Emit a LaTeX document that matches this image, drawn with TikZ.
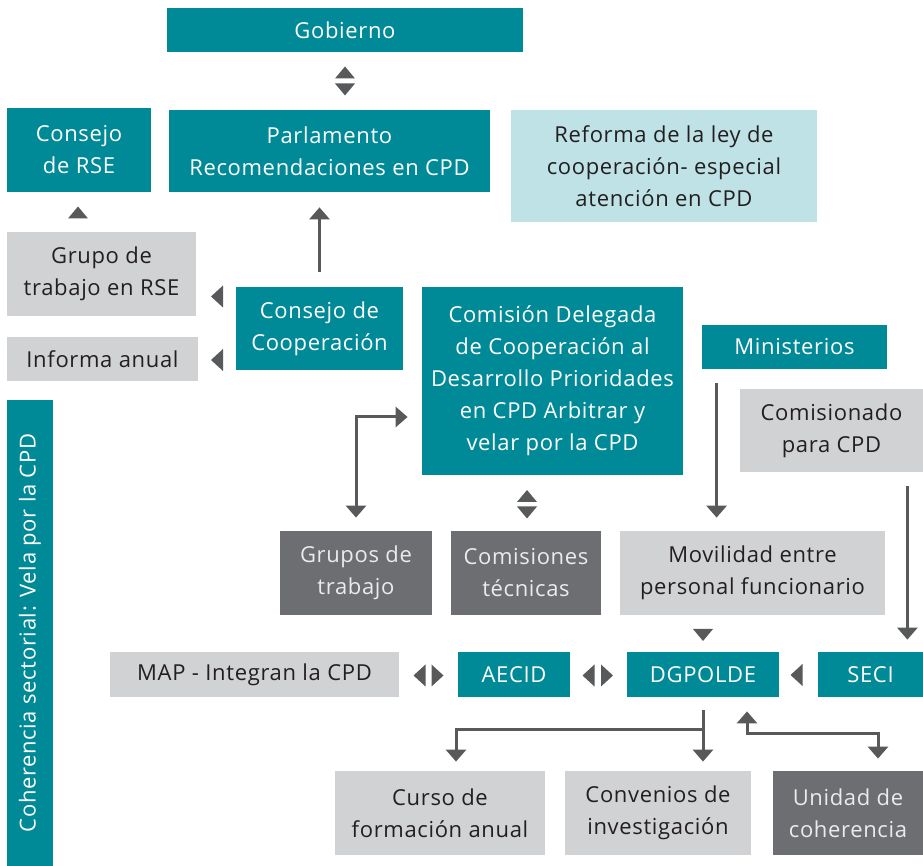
\documentclass[tikz,border=0pt]{standalone}
\usepackage{fontspec}
\setmainfont{Open Sans}[LetterSpace=3]
\usetikzlibrary{arrows.meta, positioning}
\definecolor{cpdTeal}{RGB}{0,138,151}
\definecolor{cpdLight}{RGB}{209,210,212}
\definecolor{cpdDark}{RGB}{109,110,113}
\definecolor{cpdPale}{RGB}{191,226,230}
\definecolor{cpdArrow}{RGB}{88,89,91}
\definecolor{cpdText}{RGB}{35,31,32}
\tikzset{
    box/.style={inner sep=0pt, align=center, font=\fontsize{11}{16}\selectfont},
    teal box/.style={box, fill=cpdTeal, text=white},
    light box/.style={box, fill=cpdLight, text=cpdText},
    dark box/.style={box, fill=cpdDark, text=white!92!black},
    pale box/.style={box, fill=cpdPale, text=cpdText},
    conn/.style={draw=cpdArrow, line width=1.5pt, -{Triangle[width=10pt,length=6pt]}},
    dconn/.style={draw=cpdArrow, line width=1.5pt, {Triangle[width=10pt,length=6pt]}-{Triangle[width=10pt,length=6pt]}}
}
% loose arrowheads between boxes
\newcommand{\tipup}[1]{\fill[cpdArrow] (#1) ++(-10,6) -- ++(20,0) -- ++(-10,-12) -- cycle;}
\newcommand{\tipdown}[1]{\fill[cpdArrow] (#1) ++(-10,-6) -- ++(20,0) -- ++(-10,12) -- cycle;}
\newcommand{\tipleft}[1]{\fill[cpdArrow] (#1) ++(6,-11) -- ++(0,22) -- ++(-12,-11) -- cycle;}
\newcommand{\tipright}[1]{\fill[cpdArrow] (#1) ++(-6,-11) -- ++(0,22) -- ++(12,-11) -- cycle;}

\begin{document}
\begin{tikzpicture}[x=0.5pt, y=-0.5pt]
    \useasboundingbox (0,0) rectangle (923,866);

    % Top row
    \node[teal box, minimum width=178pt, minimum height=22pt] (gobierno) at (345,30) {Gobierno};
    \node[teal box, minimum width=72pt, minimum height=42pt] (rse) at (79,150) {Consejo\\de RSE};
    \node[teal box, minimum width=160.5pt, minimum height=41pt] (parl) at (329.5,151) {Parlamento\\Recomendaciones en CPD};
    \node[pale box, minimum width=153pt, minimum height=56pt] (reforma) at (664,166) {Reforma de la ley de\\cooperación- especial\\atención en CPD};

    % Middle block
    \node[light box, minimum width=94.5pt, minimum height=42pt] (grupo) at (101.5,274) {Grupo de\\trabajo en RSE};
    \node[light box, minimum width=95.5pt, minimum height=22pt] (informa) at (102.5,359) {Informa anual};
    \node[teal box, minimum width=83.5pt, minimum height=41.5pt] (consejo) at (319.5,328.5) {Consejo de\\Cooperación};
    \node[teal box, minimum width=130.5pt, minimum height=94pt] (comision) at (552.5,381) {Comisión Delegada\\de Cooperación al\\Desarrollo Prioridades\\en CPD Arbitrar y\\velar por la CPD};
    \node[teal box, minimum width=92.5pt, minimum height=22pt] (ministerios) at (794.5,347) {Ministerios};
    \node[light box, minimum width=91.5pt, minimum height=41.5pt] (comisionado) at (831.5,430.5) {Comisionado\\para CPD};

    \node[dark box, minimum width=76pt, minimum height=42pt] (gtrabajo) at (356,573) {Grupos de\\trabajo};
    \node[dark box, minimum width=75pt, minimum height=42pt] (ctecnicas) at (526,573) {Comisiones\\técnicas};
    \node[light box, minimum width=132.5pt, minimum height=42pt] (movilidad) at (752.5,573) {Movilidad entre\\personal funcionario};

    % Side bar
    \node[teal box, minimum width=233pt, minimum height=23pt, rotate=90] (sector) at (30,633) {Coherencia sectorial: Vela por la CPD};

    % Row of agencies
    \node[light box, minimum width=144.5pt, minimum height=22.5pt] (map) at (254.5,674.5) {MAP - Integran la CPD};
    \node[teal box, minimum width=56pt, minimum height=22.5pt] (aecid) at (514,674.5) {AECID};
    \node[teal box, minimum width=76pt, minimum height=22.5pt] (dgpolde) at (703,674.5) {DGPOLDE};
    \node[teal box, minimum width=52.5pt, minimum height=22.5pt] (seci) at (870.5,674.5) {SECI};

    % Bottom row
    \node[light box, minimum width=105pt, minimum height=42pt] (curso) at (440,813) {Curso de\\formación anual};
    \node[light box, minimum width=93pt, minimum height=42pt] (convenios) at (658,813) {Convenios de\\investigación};
    \node[dark box, minimum width=75pt, minimum height=42pt] (unidad) at (848,813) {Unidad de\\coherencia};

    % Loose arrowheads
    \tipup{345,72.5}
    \tipdown{345,89.5}
    \tipup{78,212.5}
    \tipleft{217,296.5}
    \tipleft{217,360}
    \tipup{527,496}
    \tipdown{527,512.5}
    \tipdown{703,635}
    \tipleft{796.5,675}
    \tipleft{419.5,675.5}
    \tipright{437.5,675.5}
    \tipleft{588.5,675.5}
    \tipright{607,675.5}

    % Connectors
    \draw[conn, shorten <=7.5pt, shorten >=7.5pt] (consejo.north) -- (consejo.north |- parl.south);
    \draw[conn, shorten <=7pt, shorten >=6.5pt] ([xshift=7.5pt]ministerios.south west) -- ([xshift=7.5pt]ministerios.south west |- movilidad.north);
    \draw[conn, shorten <=7pt, shorten >=6pt] ([xshift=-8pt]comisionado.south east) -- ([xshift=-8pt]comisionado.south east |- seci.north);
    \draw[dconn, shorten <=7pt, shorten >=6.5pt] ([yshift=-18pt]comision.west) -| (gtrabajo.north);

    \draw[conn, shorten <=6.5pt, shorten >=4.5pt] (dgpolde.south) -- (dgpolde.south |- convenios.north);
    \coordinate (split) at ([yshift=-16pt]dgpolde.south);
    \draw[conn, shorten >=4.5pt] (split) -| ([xshift=8pt]curso.north);
    \draw[dconn, shorten <=7pt, shorten >=6pt] ([xshift=22pt]dgpolde.south) -- ++(0,36) -| ([xshift=15pt]unidad.north);
\end{tikzpicture}
\end{document}
